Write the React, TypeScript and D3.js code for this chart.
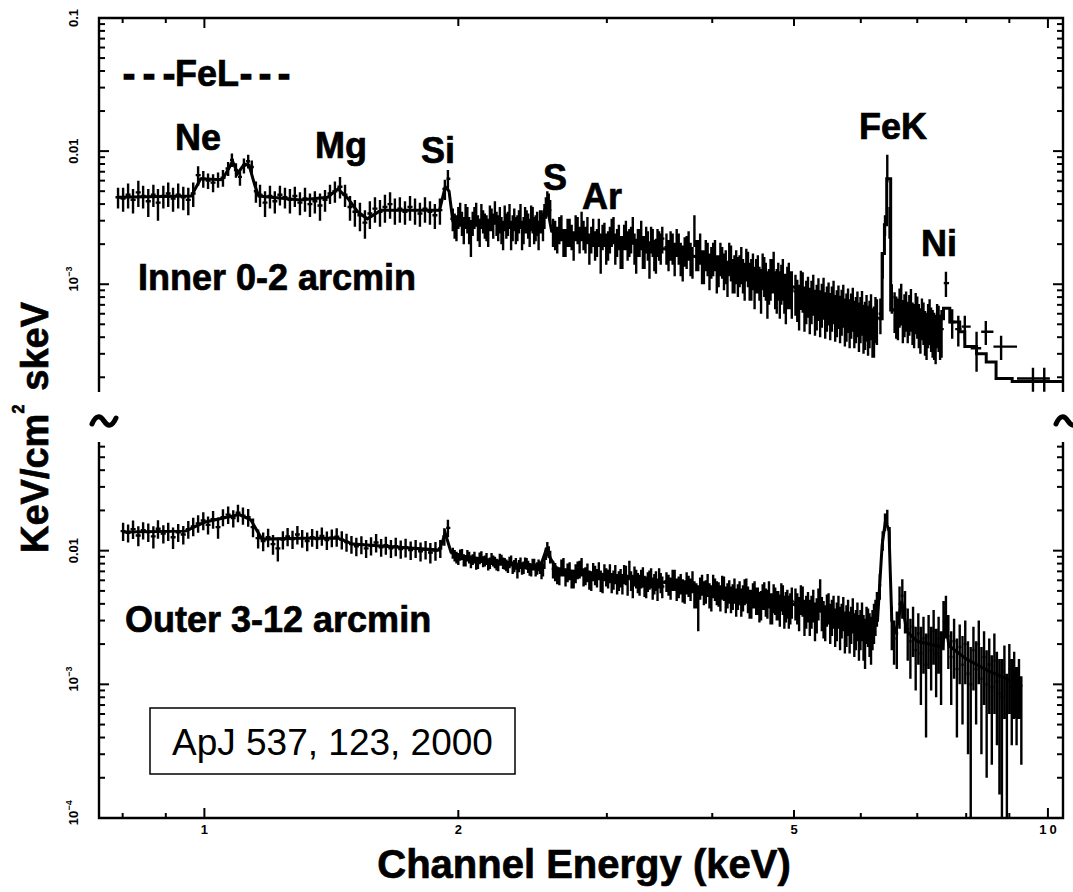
import React from "react";
import * as d3 from "d3";

const W = 1073;
const H = 892;
const FONT = "'Liberation Sans', Arial, Helvetica, sans-serif";
const UNIT = 1e-4; // flux arrays are in units of 1e-4 keV^2/cm^2/s/keV

// ---------- Inner 0-2 arcmin spectrum ----------
const innerE = [
  0.790, 0.801, 0.812, 0.823, 0.835, 0.846, 0.858, 0.870, 0.881, 0.894, 0.906, 0.918, 0.931, 0.944, 0.957, 0.970, 0.983, 0.997, 1.010, 1.024, 1.038, 1.052, 1.067, 1.078, 1.090, 1.102, 1.114, 1.127, 1.138, 1.151,
  1.164, 1.180, 1.196, 1.212, 1.229, 1.246, 1.263, 1.280, 1.298, 1.316, 1.334, 1.352, 1.371, 1.390, 1.409, 1.428, 1.448, 1.468, 1.488, 1.508, 1.529, 1.550, 1.571, 1.593, 1.615, 1.637, 1.660, 1.682, 1.705, 1.729, 1.753, 1.777, 1.801, 1.826, 1.851, 1.876, 1.902, 1.928, 1.944,
  1.97, 1.99, 2.01, 2.03, 2.05, 2.07, 2.09, 2.11, 2.13, 2.15, 2.17, 2.19, 2.21, 2.23, 2.25, 2.27, 2.29, 2.31, 2.33, 2.35, 2.37, 2.39, 2.41, 2.43, 2.45, 2.47, 2.49, 2.51, 2.53, 2.55, 2.57,
  2.59, 2.62, 2.65, 2.68, 2.71, 2.74, 2.77, 2.80, 2.83, 2.86, 2.89, 2.92, 2.95, 2.98, 3.01, 3.04, 3.07, 3.10, 3.13, 3.16, 3.19, 3.22, 3.25, 3.28, 3.31, 3.34, 3.37, 3.40, 3.43, 3.46, 3.49,
  3.53, 3.57, 3.61, 3.65, 3.69, 3.73, 3.77, 3.81, 3.85, 3.89, 3.93, 3.97, 4.01, 4.05, 4.09, 4.13, 4.17, 4.21, 4.25, 4.29, 4.33, 4.37, 4.41, 4.45, 4.49, 4.53, 4.57, 4.61, 4.65, 4.69, 4.73, 4.77, 4.81, 4.85, 4.89, 4.93, 4.97,
  5.02, 5.07, 5.12, 5.17, 5.22, 5.27, 5.32, 5.37, 5.42, 5.47, 5.52, 5.57, 5.62, 5.67, 5.72, 5.77, 5.82, 5.87, 5.92, 5.97, 6.02, 6.07, 6.12, 6.17, 6.22, 6.27,
  6.33, 6.37, 6.41, 6.45, 6.49, 6.53,
  6.58, 6.64, 6.70, 6.76, 6.82, 6.88, 6.94, 7.00, 7.06, 7.12, 7.18, 7.24, 7.30, 7.36, 7.42, 7.48,
  7.57, 7.70, 7.83, 7.97, 8.23, 8.44, 8.80, 9.60, 9.90,
];
const innerF = [
  45, 44, 47, 43, 49, 46, 42, 47, 41, 46, 48, 44, 47, 45, 43, 48, 66, 62, 60, 58, 61, 63, 74, 86, 72, 64, 78, 84, 76, 50,
  47, 41, 46, 42, 47, 45, 43, 46, 41, 44, 40, 42, 39, 43, 48, 50, 54, 47, 38, 35, 33, 29, 34, 37, 35, 38, 40, 36, 37, 35, 38, 36, 34, 37, 35, 33, 36, 52, 62,
  31, 27, 34, 26, 31, 23, 32, 27, 33, 28, 25, 31, 35, 27, 26, 32, 29, 24, 31, 27, 33, 26, 30, 25, 31, 27, 24, 30, 33, 42, 36,
  25, 22, 27, 21, 25, 20, 26, 28, 22, 19, 25, 21, 18, 24, 20, 25, 19, 23, 18, 24, 21, 26, 17, 21, 18, 22, 16, 21, 17, 20, 22,
  19, 20, 16, 19, 15, 18, 16, 26, 17, 14, 17, 13, 16, 12.5, 16, 13, 11.5, 15, 12.5, 12, 14.5, 11, 13.5, 11.5, 10, 12.5, 9.5, 12, 9, 11.5, 13, 9.5, 9, 11.5, 8.5, 10.5, 9,
  8.8, 7.2, 9.2, 7.8, 6.8, 8.8, 7.2, 6.5, 8.3, 7, 6.2, 7.8, 6.5, 5.9, 7.3, 6.1, 5.5, 6.9, 5.8, 5.2, 6.5, 5.3, 4.9, 6.1, 4.8, 5.6,
  6, 14, 28, 76, 30, 8,
  6.5, 5.8, 7.5, 6.2, 5.5, 6.8, 5.2, 6, 4.8, 5.4, 4.4, 5.6, 4.6, 4.2, 5, 4.6,
  10.2, 5.2, 4.6, 4.8, 3.3, 4.4, 3.4, 1.96, 1.96,
];
const innerErr = [
  8, 9, 10, 9, 11, 9, 10, 9, 11, 9, 10, 9, 10, 9, 10, 10, 11, 9, 8, 9, 8, 9, 9, 10, 9, 9, 10, 10, 9, 9,
  9, 9, 9, 8, 8, 8, 9, 8, 8, 9, 8, 8, 9, 8, 8, 9, 10, 9, 8, 8, 8, 7, 8, 8, 8, 9, 9, 8, 8, 7, 8, 8, 7, 8, 7, 7, 8, 9, 10,
  6, 6, 7, 6, 7, 7, 6, 6, 7, 6, 6, 6, 7, 6, 6, 7, 6, 6, 6, 6, 7, 6, 6, 6, 7, 6, 6, 6, 7, 8, 7,
  6, 5, 6, 5, 6, 5, 6, 7, 5, 5, 6, 5, 6, 5, 5, 6, 5, 5, 5, 6, 5, 6, 5, 5, 5, 5, 5, 5, 5, 5, 5,
  5, 5, 4.5, 5, 4.5, 5, 4.5, 7, 4.5, 4, 4.5, 4, 4.5, 4, 4.5, 4, 3.5, 4.5, 4, 4, 4.5, 3.5, 4, 4, 3.5, 4, 3.5, 4, 3.5, 4, 4.5, 3.5, 3.5, 4, 3.5, 4, 3.5,
  3, 2.7, 3.1, 2.8, 2.6, 3, 2.7, 2.5, 2.9, 2.6, 2.4, 2.8, 2.5, 2.3, 2.6, 2.4, 2.2, 2.5, 2.2, 2.1, 2.4, 2.1, 2, 2.3, 2, 2.1,
  1.8, 3, 5, 18, 8, 2,
  2.2, 2, 2.6, 2.2, 1.9, 2.4, 1.9, 2.1, 1.8, 1.9, 1.7, 2.1, 1.8, 1.7, 1.9, 1.8,
  2.2, 1.3, 1.2, 1.0, 1.1, 0.9, 0.7, 0.4, 0.4,
];
// intermediate channels just above the Fe K line (inner spectrum only)
const innerPostFeE = [6.61, 6.67, 6.73, 6.79, 6.85, 6.91, 6.97, 7.03, 7.09, 7.15, 7.21, 7.27, 7.33, 7.39, 7.45];
const innerPostFeF = [6, 7, 5.6, 6.6, 6.2, 5.4, 6.4, 5.2, 5.8, 4.6, 5.2, 4.9, 4.4, 5.2, 4.3];
const innerPostFeErr = [2.1, 2.3, 2, 2.2, 2.1, 1.9, 2.2, 1.9, 2, 1.7, 1.9, 1.8, 1.7, 1.9, 1.6];

// intermediate (odd) channels of the densely sampled 2-6.3 keV range, shared by both spectra
const midE = [
  1.98, 2.00, 2.02, 2.04, 2.06, 2.08, 2.10, 2.12, 2.14, 2.16, 2.18, 2.20, 2.22, 2.24, 2.26, 2.28, 2.30, 2.32, 2.34, 2.36, 2.38, 2.40, 2.42, 2.44, 2.46, 2.48, 2.50, 2.52, 2.54, 2.56,
  2.605, 2.635, 2.665, 2.695, 2.725, 2.755, 2.785, 2.815, 2.845, 2.875, 2.905, 2.935, 2.965, 2.995, 3.025, 3.055, 3.085, 3.115, 3.145, 3.175, 3.205, 3.235, 3.265, 3.295, 3.325, 3.355, 3.385, 3.415, 3.445, 3.475,
  3.55, 3.59, 3.63, 3.67, 3.71, 3.75, 3.79, 3.83, 3.87, 3.91, 3.95, 3.99, 4.03, 4.07, 4.11, 4.15, 4.19, 4.23, 4.27, 4.31, 4.35, 4.39, 4.43, 4.47, 4.51, 4.55, 4.59, 4.63, 4.67, 4.71, 4.75, 4.79, 4.83, 4.87, 4.91, 4.95,
  5.045, 5.095, 5.145, 5.195, 5.245, 5.295, 5.345, 5.395, 5.445, 5.495, 5.545, 5.595, 5.645, 5.695, 5.745, 5.795, 5.845, 5.895, 5.945, 5.995, 6.045, 6.095, 6.145, 6.195, 6.245,
];
const innerMidF = [
  28, 32, 29, 33, 26, 29, 34, 25, 30, 27, 32, 28, 29, 31, 24, 28, 33, 27, 26, 30, 24, 31, 28, 32, 26, 29, 30, 27, 38, 40,
  24, 26, 21, 25, 23, 27, 22, 24, 26, 22, 20, 25, 23, 19, 22, 26, 21, 18, 23, 20, 22, 19, 21, 24, 18, 20, 22, 17, 21, 19,
  17, 19, 21, 16, 18, 20, 15, 17, 19, 14, 16, 15, 17, 13, 15, 14, 16, 12, 14, 13, 12, 14.5, 11, 13, 12, 10.5, 13, 11, 10, 12, 9.5, 11, 10.5, 9, 10, 9.5,
  8, 9.5, 7, 8.5, 7.8, 6.6, 8.2, 7.4, 6.3, 7.6, 7, 6, 7.2, 6.6, 5.6, 6.8, 6.2, 5.4, 6.4, 5.8, 5, 6, 5.4, 4.7, 5.8,
];
const innerMidErr = [
  6, 6, 6, 7, 6, 6, 7, 6, 6, 6, 7, 6, 6, 7, 6, 6, 7, 6, 6, 6, 6, 7, 6, 7, 6, 6, 6, 6, 7, 8,
  6, 6, 5, 6, 5, 6, 5, 6, 6, 5, 5, 6, 5, 5, 5, 6, 5, 5, 5, 5, 5, 5, 5, 6, 5, 5, 5, 4.5, 5, 5,
  4.5, 5, 5, 4.5, 4.5, 5, 4, 4.5, 5, 4, 4.5, 4, 4.5, 3.5, 4, 4, 4.5, 3.5, 4, 3.5, 3.5, 4, 3.5, 4, 3.5, 3, 4, 3.5, 3, 3.5, 3, 3.5, 3.5, 3, 3.5, 3,
  2.8, 3.1, 2.6, 2.9, 2.8, 2.5, 2.9, 2.7, 2.4, 2.7, 2.6, 2.3, 2.6, 2.5, 2.2, 2.5, 2.3, 2.1, 2.4, 2.2, 2, 2.3, 2.1, 1.9, 2.2,
];

// best-fit model for the inner spectrum (smooth part and binned high-energy part)
const innerModelE = [0.79, 0.965, 0.99, 1.05, 1.07, 1.08, 1.095, 1.115, 1.13, 1.148, 1.16, 1.30, 1.40, 1.44, 1.48, 1.52, 1.56, 1.62, 1.90, 1.93, 1.95, 1.97, 2.50, 2.545, 2.58, 3.0, 3.5, 4.0, 4.5, 5.0, 5.5, 6.0, 6.30];
const innerModelF = [45, 46, 62, 61, 75, 84, 68, 80, 78, 55, 46, 43, 45, 52, 44, 35, 31, 36, 36, 54, 50, 30, 28, 40, 25, 22, 18.5, 15, 11.5, 9.5, 7.2, 5.9, 5.5];
const innerStepE = [6.30, 6.36, 6.40, 6.44, 6.51, 6.71, 7.00, 7.19, 7.40, 7.52, 7.65, 7.86, 7.97, 8.23, 8.45, 8.68, 9.07, 10.42];
const innerStepF = [5.5, 17, 28, 62, 6.4, 5.5, 4.6, 4.4, 5.5, 6.6, 5.2, 4.4, 3.4, 3.0, 2.6, 1.96, 1.86, 1.86];

// ---------- Outer 3-12 arcmin spectrum ----------
const outerE = [
  0.801, 0.812, 0.823, 0.835, 0.846, 0.858, 0.870, 0.881, 0.894, 0.906, 0.918, 0.931, 0.944, 0.957, 0.970, 0.983, 0.997, 1.010, 1.024, 1.038, 1.052, 1.067, 1.082, 1.096, 1.111, 1.127, 1.142, 1.158, 1.174, 1.190, 1.206, 1.222, 1.239, 1.255, 1.272, 1.289, 1.306, 1.324, 1.342, 1.360, 1.378, 1.397, 1.416, 1.435, 1.455, 1.474, 1.494, 1.514, 1.535, 1.555, 1.576, 1.598, 1.620, 1.641, 1.664, 1.686, 1.709, 1.732, 1.756, 1.780, 1.804, 1.829, 1.853, 1.879, 1.904, 1.925, 1.944,
  1.97, 1.99, 2.01, 2.03, 2.05, 2.07, 2.09, 2.11, 2.13, 2.15, 2.17, 2.19, 2.21, 2.23, 2.25, 2.27, 2.29, 2.31, 2.33, 2.35, 2.37, 2.39, 2.41, 2.43, 2.45, 2.47, 2.49, 2.51, 2.53, 2.55, 2.57,
  2.59, 2.62, 2.65, 2.68, 2.71, 2.74, 2.77, 2.80, 2.83, 2.86, 2.89, 2.92, 2.95, 2.98, 3.01, 3.04, 3.07, 3.10, 3.13, 3.16, 3.19, 3.22, 3.25, 3.28, 3.31, 3.34, 3.37, 3.40, 3.43, 3.46, 3.49,
  3.53, 3.57, 3.61, 3.65, 3.69, 3.73, 3.77, 3.81, 3.85, 3.89, 3.93, 3.97, 4.01, 4.05, 4.09, 4.13, 4.17, 4.21, 4.25, 4.29, 4.33, 4.37, 4.41, 4.45, 4.49, 4.53, 4.57, 4.61, 4.65, 4.69, 4.73, 4.77, 4.81, 4.85, 4.89, 4.93, 4.97,
  5.02, 5.07, 5.12, 5.17, 5.22, 5.27, 5.32, 5.37, 5.42, 5.47, 5.52, 5.57, 5.62, 5.67, 5.72, 5.77, 5.82, 5.87, 5.92, 5.97, 6.02, 6.07, 6.12, 6.17, 6.22, 6.27,
  6.32, 6.37, 6.41, 6.45, 6.49, 6.53, 6.57,
  6.62, 6.67, 6.72, 6.77, 6.82, 6.87, 6.92, 6.97, 7.02, 7.07, 7.12, 7.17, 7.22, 7.27, 7.32, 7.37, 7.42, 7.47, 7.52, 7.57, 7.62, 7.68, 7.74, 7.80, 7.86, 7.92, 7.98, 8.04, 8.10, 8.16, 8.22, 8.28, 8.34, 8.40, 8.46, 8.52, 8.58, 8.64, 8.70, 8.76, 8.82, 8.88, 8.94, 9.00, 9.06, 9.12, 9.18, 9.24, 9.30,
];
const outerF = [
  140, 136, 145, 130, 142, 138, 128, 146, 134, 140, 126, 137, 132, 145, 152, 160, 168, 156, 172, 150, 178, 186, 175, 192, 183, 178, 150, 124, 118, 126, 112, 104, 121, 128, 122, 132, 124, 118, 126, 122, 129, 120, 125, 127, 121, 116, 112, 108, 111, 104, 109, 115, 106, 110, 104, 108, 103, 106, 101, 104, 99, 102, 97, 100, 104, 128, 148,
  96, 89, 93, 85, 92, 83, 89, 81, 90, 84, 79, 87, 82, 78, 85, 80, 76, 84, 77, 71, 81, 75, 80, 73, 79, 72, 78, 70, 82, 105, 90,
  73, 66, 75, 64, 71, 62, 72, 76, 65, 61, 70, 63, 60, 69, 62, 58, 67, 60, 57, 66, 72, 55, 62, 56, 64, 54, 61, 53, 60, 63, 54,
  59, 53, 61, 54, 51, 58, 52, 48, 40, 56, 50, 47, 55, 49, 45, 53, 47, 44, 51, 46, 42, 50, 44, 41, 48, 43, 40, 47, 41, 38, 45, 40, 37, 44, 39, 36, 42,
  41, 35, 43, 36, 33, 40, 34, 48, 32, 37, 30, 36, 31, 28, 35, 29, 26, 34, 27, 24, 31, 22, 28, 23, 30, 38,
  55, 120, 165, 180, 130, 28, 22,
  24, 40, 46, 37, 26, 21, 27, 18, 24, 17, 22, 14, 23, 18, 25, 17, 22, 16, 30, 34, 23, 16, 21, 13, 19, 14, 20, 12, 10, 18, 13, 20, 11, 16, 10, 14, 9.5, 15, 10.5, 8.5, 8, 12.5, 6, 13, 9.5, 11.5, 8.5, 10.5, 7,
];
const outerErr = [
  22, 21, 23, 22, 21, 22, 24, 23, 21, 22, 23, 21, 21, 22, 24, 24, 26, 24, 26, 27, 26, 28, 26, 29, 27, 27, 24, 20, 19, 20, 19, 21, 19, 20, 19, 21, 19, 19, 19, 19, 20, 19, 19, 20, 19, 18, 17, 17, 17, 16, 17, 18, 16, 17, 16, 17, 16, 17, 16, 16, 16, 16, 17, 16, 16, 19, 22,
  9, 9, 9, 9, 9, 9, 9, 8, 9, 8, 8, 9, 8, 8, 8, 8, 8, 8, 8, 9, 8, 8, 8, 8, 8, 8, 8, 9, 9, 11, 10,
  11, 10, 11, 10, 11, 10, 11, 12, 10, 10, 11, 10, 11, 10, 10, 10, 11, 10, 10, 11, 12, 11, 10, 10, 11, 10, 10, 10, 10, 11, 10,
  10, 10, 11, 10, 10, 11, 10, 11, 15, 10, 10, 10, 11, 10, 10, 11, 10, 10, 11, 10, 10, 11, 10, 10, 11, 10, 10, 11, 10, 10, 11, 10, 10, 11, 10, 10, 11,
  11, 10, 11, 10, 10, 11, 10, 13, 10, 10, 10, 10, 10, 10, 10, 10, 9, 10, 9, 9, 10, 9, 9, 9, 10, 11,
  12, 20, 25, 22, 20, 10, 8,
  11, 14, 15, 13, 11, 10, 11, 9, 10, 10, 10, 10, 10, 9, 11, 9, 10, 9, 12, 12, 10, 9, 10, 9, 9, 9, 10, 9, 9, 9, 8, 10, 8, 9, 8, 8, 7, 9, 7, 7, 7.5, 7, 6, 7, 6, 6, 5, 5, 4.5,
];
const outerMidF = [
  92, 87, 94, 84, 89, 86, 80, 88, 83, 87, 81, 84, 79, 86, 81, 78, 82, 75, 80, 77, 74, 81, 76, 72, 79, 74, 75, 72, 95, 98,
  70, 65, 76, 69, 62, 68, 73, 64, 69, 60, 66, 71, 58, 64, 68, 61, 57, 63, 67, 56, 60, 65, 58, 62, 55, 59, 63, 57, 52, 58,
  56, 61, 52, 57, 50, 55, 59, 47, 53, 49, 56, 45, 52, 48, 54, 44, 50, 46, 42, 49, 45, 51, 41, 47, 43, 39, 46, 42, 48, 38, 43, 40, 46, 36, 41, 38,
  38, 44, 33, 39, 36, 31, 41, 35, 30, 38, 33, 28, 36, 31, 26, 33, 29, 25, 31, 27, 24, 29, 25, 27, 33,
];
const outerMidErr = [
  9, 9, 9, 8, 9, 8, 8, 9, 8, 9, 8, 8, 8, 9, 8, 8, 8, 8, 8, 8, 8, 8, 8, 8, 8, 8, 8, 8, 10, 10,
  11, 10, 12, 11, 10, 11, 11, 10, 11, 10, 11, 11, 10, 10, 11, 10, 10, 10, 11, 10, 10, 11, 10, 10, 10, 10, 11, 10, 10, 10,
  10, 11, 10, 10, 10, 10, 11, 10, 10, 10, 11, 10, 10, 10, 11, 10, 10, 10, 10, 10, 10, 11, 10, 10, 10, 10, 10, 10, 11, 10, 10, 10, 11, 10, 10, 10,
  10, 11, 10, 10, 10, 10, 11, 10, 9, 10, 10, 9, 10, 9, 9, 10, 9, 9, 10, 9, 9, 9, 9, 9, 10,
];
const outerModelE = [0.80, 0.95, 1.00, 1.05, 1.10, 1.135, 1.17, 1.30, 1.44, 1.50, 1.90, 1.93, 1.96, 2.00, 2.50, 2.54, 2.57, 2.62, 3.0, 3.5, 4.0, 4.5, 5.0, 5.5, 6.0, 6.28, 6.36, 6.42, 6.48, 6.53, 6.60, 6.71, 6.80, 7.0, 7.5, 7.56, 7.63, 8.0, 8.5, 9.0, 9.32];
const outerModelF = [138, 140, 163, 175, 186, 170, 122, 124, 124, 112, 101, 135, 98, 92, 75, 100, 88, 72, 66, 58, 51, 45, 39.5, 34, 28.5, 30, 110, 170, 140, 30, 24, 42, 25, 21, 19, 30, 19.5, 15.5, 12.6, 10.8, 9.6];

// ---------- axes ----------
const xDomain = [0.75, 10.42];
const topYDomain = [1.55e-4, 0.1];
const botYDomain = [1e-4, 0.065];
const xTickLabels = [
  { v: 1, t: "1" },
  { v: 2, t: "2" },
  { v: 5, t: "5" },
  { v: 10, t: "10" },
];
const topYLabels = [
  { v: 0.1, base: "0.1", exp: "" },
  { v: 0.01, base: "0.01", exp: "" },
  { v: 0.001, base: "10", exp: "\u22123" },
];
const botYLabels = [
  { v: 0.01, base: "0.01", exp: "" },
  { v: 0.001, base: "10", exp: "\u22123" },
  { v: 0.0001, base: "10", exp: "\u22124" },
];
const lineLabels = [
  { t: "Ne", px: 175, py: 150 },
  { t: "Mg", px: 315, py: 158 },
  { t: "Si", px: 421, py: 163 },
  { t: "S", px: 543, py: 190 },
  { t: "Ar", px: 582, py: 209 },
  { t: "FeK", px: 859, py: 139 },
  { t: "Ni", px: 921, py: 256 },
];

const L = 99;
const R = 1063;
const TOP0 = 18;
const TOP1 = 392;
const BOT0 = 442;
const BOT1 = 818;

type Pt = { e: number; f: number; er: number };

function merge(sets: [number[], number[], number[]][]): Pt[] {
  const pts: Pt[] = [];
  sets.forEach(([E, F, Er]) => E.forEach((e, i) => pts.push({ e, f: F[i], er: Er[i] })));
  pts.sort((a, b) => a.e - b.e);
  return pts;
}

function crossPath(pts: Pt[], x: any, y: any, ymin: number) {
  const xs = pts.map((p) => x(p.e));
  const n = pts.length;
  let d = "";
  for (let i = 0; i < n; i++) {
    const xc = xs[i];
    const xl = i > 0 ? (xs[i - 1] + xc) / 2 : xc - (xs[1] - xs[0]) / 2;
    const xr = i < n - 1 ? (xc + xs[i + 1]) / 2 : xc + (xc - xs[i - 1]) / 2;
    const f = pts[i].f * UNIT;
    const e = pts[i].er * UNIT;
    const yc = y(f);
    const yt = y(f + e);
    const yb = y(Math.max(f - e, ymin * 0.5));
    d += `M${xl.toFixed(2)},${yc.toFixed(2)}H${xr.toFixed(2)}M${xc.toFixed(2)},${yt.toFixed(2)}V${yb.toFixed(2)}`;
  }
  return d;
}

function isMajor(v: number) {
  const l = Math.log10(v);
  return Math.abs(l - Math.round(l)) < 1e-6;
}

function tilde(cx: number, cy: number) {
  return `M${cx - 12},${cy + 3} C${cx - 8},${cy - 6} ${cx - 4},${cy - 6} ${cx},${cy} S${cx + 8},${cy + 6} ${cx + 12},${cy - 3}`;
}

export default function App() {
  const x = d3.scaleLog().domain(xDomain).range([L, R]);
  const yTop = d3.scaleLog().domain(topYDomain).range([TOP1, TOP0]);
  const yBot = d3.scaleLog().domain(botYDomain).range([BOT1, BOT0]);

  const xt = x.ticks();
  const ytTop = yTop.ticks();
  const ytBot = yBot.ticks();

  const innerPts = merge([
    [innerE, innerF, innerErr],
    [midE, innerMidF, innerMidErr],
    [innerPostFeE, innerPostFeF, innerPostFeErr],
  ]);
  const outerPts = merge([
    [outerE, outerF, outerErr],
    [midE, outerMidF, outerMidErr],
  ]);

  const lineTop = d3
    .line<number>()
    .x((_, i) => x(innerModelE[i]))
    .y((d) => yTop(d * UNIT));
  const stepTop = d3
    .line<number>()
    .x((_, i) => x(innerStepE[i]))
    .y((d) => yTop(d * UNIT))
    .curve(d3.curveStepAfter);
  const lineBot = d3
    .line<number>()
    .x((_, i) => x(outerModelE[i]))
    .y((d) => yBot(d * UNIT));

  const mismatch =
    innerE.length !== innerF.length ||
    innerE.length !== innerErr.length ||
    outerE.length !== outerF.length ||
    outerE.length !== outerErr.length ||
    midE.length !== innerMidF.length ||
    midE.length !== innerMidErr.length ||
    midE.length !== outerMidF.length ||
    midE.length !== outerMidErr.length ||
    innerPostFeE.length !== innerPostFeF.length ||
    innerPostFeE.length !== innerPostFeErr.length;

  const xTickLen = (v: number) => (v === 1 || v === 10 ? 10 : v === 2 || v === 5 ? 8 : 5);

  const heavy = { stroke: "#000", strokeWidth: 0.7 };

  return (
    <svg
      width={W}
      height={H}
      viewBox={`0 0 ${W} ${H}`}
      style={{ position: "absolute", left: 0, top: 0, background: "#fff" }}
      fontFamily={FONT}
    >
      <defs>
        <clipPath id="clipTop">
          <rect x={L} y={TOP0} width={R - L} height={TOP1 - TOP0} />
        </clipPath>
        <clipPath id="clipBot">
          <rect x={L} y={BOT0} width={R - L} height={BOT1 - BOT0} />
        </clipPath>
      </defs>
      <rect x={0} y={0} width={W} height={H} fill="#fff" />

      {/* data */}
      <g clipPath="url(#clipTop)" stroke="#000" fill="none">
        <path d={crossPath(innerPts, x, yTop, topYDomain[0])} strokeWidth={2.4} />
        <path d={lineTop(innerModelF) || ""} strokeWidth={3} />
        <path d={stepTop(innerStepF) || ""} strokeWidth={3} />
      </g>
      <g clipPath="url(#clipBot)" stroke="#000" fill="none">
        <path d={crossPath(outerPts, x, yBot, botYDomain[0])} strokeWidth={2.4} />
        <path d={lineBot(outerModelF) || ""} strokeWidth={3} />
      </g>

      {/* frames */}
      <g stroke="#000" fill="none" strokeWidth={2.4}>
        <path d={`M${L},${TOP1}V${TOP0}H${R}V${TOP1}`} />
        <path d={`M${L},${BOT0}V${BOT1}H${R}V${BOT0}`} />
      </g>

      {/* ticks */}
      <g stroke="#000" strokeWidth={2}>
        {ytTop.map((v, i) => {
          const yy = yTop(v);
          const len = isMajor(v) ? 10 : 6;
          return (
            <g key={"tt" + i}>
              <line x1={L} x2={L + len} y1={yy} y2={yy} />
              <line x1={R} x2={R - len} y1={yy} y2={yy} />
            </g>
          );
        })}
        {ytBot.map((v, i) => {
          const yy = yBot(v);
          const len = isMajor(v) ? 10 : 6;
          return (
            <g key={"tb" + i}>
              <line x1={L} x2={L + len} y1={yy} y2={yy} />
              <line x1={R} x2={R - len} y1={yy} y2={yy} />
            </g>
          );
        })}
        {xt.map((v, i) => {
          const xx = x(v);
          const len = xTickLen(v);
          return (
            <g key={"xt" + i}>
              <line x1={xx} x2={xx} y1={TOP0} y2={TOP0 + len} />
              <line x1={xx} x2={xx} y1={BOT1} y2={BOT1 - len} />
            </g>
          );
        })}
      </g>

      {/* axis break marks */}
      <g stroke="#000" strokeWidth={5} fill="none" strokeLinecap="round">
        <path d={tilde(L + 5, 421)} />
        <path d={tilde(R + 5, 421)} />
      </g>

      {/* tick labels */}
      <g fontSize={13} fontWeight="bold" fill="#000">
        {topYLabels.map((l, i) => (
          <g key={"tl" + i} transform={`translate(78,${yTop(l.v)}) rotate(-90)`}>
            <text x={0} y={0} textAnchor="middle">{l.base}</text>
            {l.exp && (
              <text x={7.5} y={-6} fontSize={9} textAnchor="start">{l.exp}</text>
            )}
          </g>
        ))}
        {botYLabels.map((l, i) => (
          <g key={"bl" + i} transform={`translate(78,${yBot(l.v)}) rotate(-90)`}>
            <text x={0} y={0} textAnchor="middle">{l.base}</text>
            {l.exp && (
              <text x={7.5} y={-6} fontSize={9} textAnchor="start">{l.exp}</text>
            )}
          </g>
        ))}
        {xTickLabels.map((l, i) => (
          <text key={"xl" + i} x={x(l.v) + (l.t.length > 1 ? 1.5 : 0)} y={834} textAnchor="middle" letterSpacing={l.t.length > 1 ? 3 : 0}>
            {l.t}
          </text>
        ))}
      </g>

      {/* axis titles */}
      <text x={584} y={878} textAnchor="middle" fontSize={40} fontWeight="bold" {...heavy}>
        Channel Energy (keV)
      </text>
      <text transform="translate(48,553) rotate(-90)" fontSize={38} fontWeight="bold" {...heavy}>
        KeV/cm
        <tspan dy={-24} fontSize={16}>2</tspan>
        <tspan dy={24} dx={14}>skeV</tspan>
      </text>

      {/* annotations */}
      <g fontSize={36} fontWeight="bold" fill="#000" {...heavy}>
        <text x={123} y={86} textLength={52} lengthAdjust="spacing" strokeWidth={1.6}>---</text>
        <text x={175} y={86}>FeL</text>
        <text x={240} y={86} textLength={50} lengthAdjust="spacing" strokeWidth={1.6}>---</text>
        {lineLabels.map((l, i) => (
          <text key={"ll" + i} x={l.px} y={l.py}>{l.t}</text>
        ))}
        <text x={138} y={290}>Inner 0-2 arcmin</text>
        <text x={125} y={632}>Outer 3-12 arcmin</text>
      </g>

      <rect x={150} y={708} width={365} height={66} fill="#fff" stroke="#000" strokeWidth={1.5} />
      <text x={172} y={755} fontSize={37}>ApJ 537, 123, 2000</text>

      {mismatch && (
        <text x={500} y={450} fill="red" fontSize={30}>LEN MISMATCH</text>
      )}
    </svg>
  );
}
